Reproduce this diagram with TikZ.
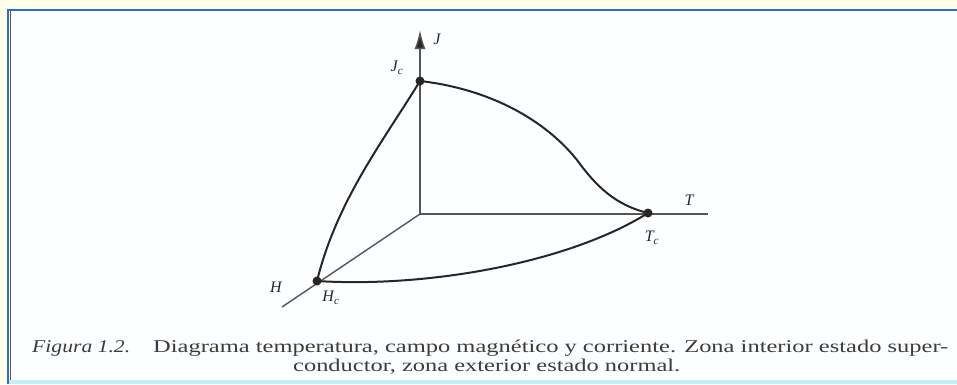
\documentclass[tikz,border=0pt]{standalone}
\usepackage{fontspec}
\setmainfont{Liberation Serif}
\usetikzlibrary{arrows.meta}
\definecolor{paleyellow}{HTML}{FFFEE8}
\definecolor{framblue}{HTML}{2A6BD6}
\definecolor{paper}{HTML}{FDFEFF}
\definecolor{botcyan}{HTML}{C4EEF4}
\definecolor{axisgray}{HTML}{555555}
\definecolor{curvedark}{HTML}{262626}
\definecolor{captgray}{HTML}{3C3C3C}
\tikzset{
  axisline/.style={draw=axisgray, line width=1.4pt},
  curveline/.style={draw=curvedark, line width=2pt},
  critdot/.style={circle, fill=curvedark, inner sep=0pt, minimum size=9pt},
  axlabel/.style={font=\fontsize{16}{18}\selectfont\itshape, text=curvedark, inner sep=0pt},
  captext/.style={font=\fontsize{18}{20}\selectfont, text=captgray, inner sep=0pt, anchor=base west},
}
\begin{document}
\begin{tikzpicture}[x=1pt,y=-1pt]
\useasboundingbox (0,0) rectangle (957,384);
% frame
\fill[paleyellow] (0,0) rectangle (957,384);
\fill[paper] (7,9) rectangle (957,384);
\fill[botcyan] (7,380) rectangle (957,384);
\draw[framblue, line width=2pt] (7,10) -- (957,10);
\draw[framblue, line width=2.5pt] (8.2,9) -- (8.2,384);
\draw[axisgray, line width=1pt] (10.5,11) -- (10.5,380);
% axes
\coordinate (O) at (420,214);
\coordinate (Jend) at (420,30);
\coordinate (Tend) at (708,214);
\coordinate (Hend) at (282,307);
\draw[axisline] (O) -- (Tend);
\draw[axisline] (O) -- (Hend);
\draw[axisline, -{Latex[length=19pt,width=11pt,fill=curvedark]}] (O) -- (Jend);
% critical points
\node[critdot] (Jc) at (420,81) {};
\node[critdot] (Tc) at (648,213) {};
\node[critdot] (Hc) at (317,281) {};
% boundary curves
\draw[curveline] (Jc.center) .. controls (490,89) and (545,120) .. (577,160)
   .. controls (596,186) and (615,205) .. (Tc.center);
\draw[curveline] (Jc.center) .. controls (384,140) and (337,200) .. (Hc.center);
\draw[curveline] (Hc.center) .. controls (430,288) and (570,262) .. (Tc.center);
% labels
\node[axlabel] (lJ) at (437,39) {J};
\node[axlabel] (lJc) at (397,68) {J\textsubscript{c}};
\node[axlabel] (lT) at (689,200) {T};
\node[axlabel] (lTc) at (652,238) {T\textsubscript{c}};
\node[axlabel] (lH) at (276,287) {H};
\node[axlabel] (lHc) at (331,298) {H\textsubscript{c}};
% caption
\node[captext] (fig) at (32,352) {\resizebox{98pt}{\height}{\itshape Figura 1.2.}};
\node[captext] (cap1) at (153,352) {\resizebox{795pt}{\height}{Diagrama temperatura, campo magnético y corriente. Zona interior estado super-}};
\node[captext] (cap2) at (293,371) {\resizebox{387pt}{\height}{conductor, zona exterior estado normal.}};
\end{tikzpicture}
\end{document}
